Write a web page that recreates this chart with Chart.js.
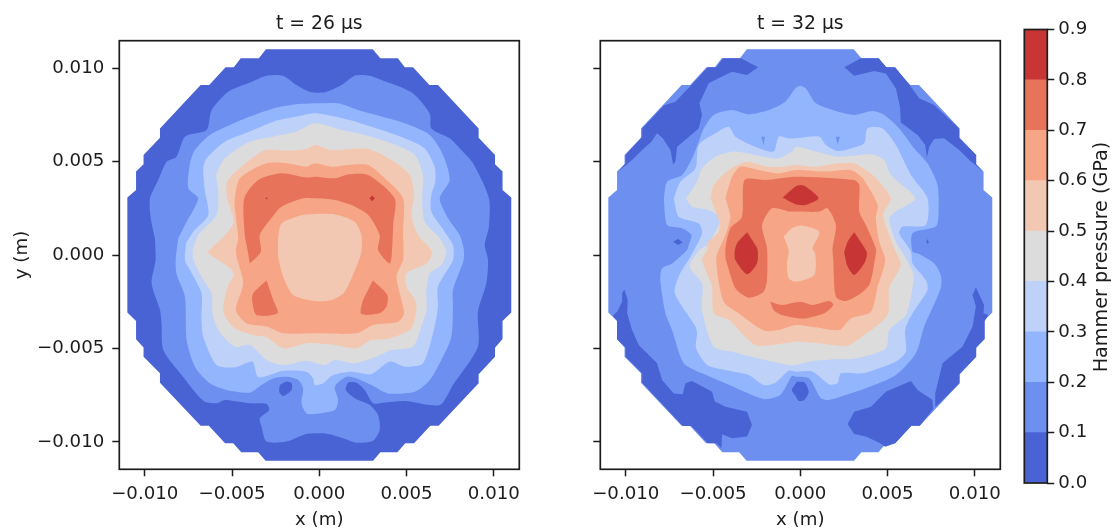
<!DOCTYPE html>
<html>
<head>
<meta charset="utf-8">
<title>Hammer pressure</title>
<script src="https://cdn.jsdelivr.net/npm/chart.js@4/dist/chart.umd.min.js"></script>
<style>
  html, body { margin: 0; padding: 0; background: #fff; }
  canvas { position: absolute; top: 0; }
</style>
</head>
<body>
<canvas id="panel26" width="560" height="529" style="left:0"></canvas>
<canvas id="panel32" width="450" height="529" style="left:560px"></canvas>
<canvas id="colorbar" width="105" height="529" style="left:1010px"></canvas>
<script>
// pressure bands (GPa) and the colour of each band
const levels = [0, 0.1, 0.2, 0.3, 0.4, 0.5, 0.6, 0.7, 0.8, 0.9];
const levelColors = ['#4a63d4', '#6c8ff0', '#93b5fe', '#bed1f8', '#dddcdc', '#f3c8b2', '#f6a587', '#e6735a', '#c73635'];
const axisTicks = [-0.01, -0.005, 0, 0.005, 0.01];
const titles = ['t = 26 µs', 't = 32 µs'];

// contour outlines, [x, y] in mm
const outline = [[-3.06,11],[3.06,11],[3.5,10.52],[4.5,10.52],[4.9,10.04],[5.37,10.04],[6.31,9.09],[6.8,9.09],[9.13,6.77],[9.13,6.27],[10.07,5.35],[10.07,4.85],[10.5,4.46],[10.5,3.48],[11,3.08],[11,-3.08],[10.5,-3.53],[10.5,-4.49],[10.07,-4.96],[10.07,-5.44],[9.13,-6.38],[9.13,-6.86],[6.84,-9.13],[6.36,-9.13],[5.43,-10.07],[4.93,-10.07],[4.47,-10.55],[3.5,-10.55],[3.08,-11],[-3.08,-11],[-3.5,-10.55],[-4.47,-10.55],[-4.93,-10.07],[-5.4,-10.07],[-6.33,-9.13],[-6.8,-9.13],[-9.13,-6.83],[-9.13,-6.33],[-10.07,-5.44],[-10.07,-4.94],[-10.5,-4.51],[-10.5,-3.53],[-11,-3.08],[-11,3.08],[-10.5,3.48],[-10.5,4.46],[-10.07,4.85],[-10.07,5.35],[-9.13,6.27],[-9.13,6.77],[-6.8,9.09],[-6.31,9.09],[-5.37,10.04],[-4.9,10.04],[-4.5,10.52],[-3.46,10.52]];

// t = 26 us
const a1 = [[-9.42,0.89],[-9.67,2.05],[-9.7,3.03],[-9.23,4.01],[-8.75,4.99],[-8.18,5.26],[-7.7,6.33],[-6.46,6.68],[-6.17,7.75],[-5.22,8.73],[-3.98,9.22],[-3.02,9.59],[-2.07,9.59],[-1.31,9.09],[-0.54,8.73],[0.31,8.7],[1.27,9.09],[2.03,9.59],[2.89,9.59],[3.56,9.36],[5.28,8.7],[6.33,7.57],[6.42,6.77],[7.47,6.24],[8.14,5.61],[8.81,4.9],[9.72,3.03],[9.72,1.52],[9.48,0.53],[9.67,-0.27],[9.57,-1.52],[9.09,-3.03],[9.09,-4.9],[7.66,-6.95],[6.9,-8.02],[4.9,-7.81],[3.65,-7.9],[3.08,-7.93],[2.6,-7.22],[2.13,-6.83],[1.65,-6.83],[1.52,-7.22],[2.03,-7.66],[2.89,-8.02],[3.37,-8.56],[3.46,-9.36],[3.08,-9.93],[2.13,-10.04],[1.36,-9.8],[0.51,-9.57],[-0.73,-9.57],[-1.88,-9.98],[-3.02,-9.98],[-3.31,-9.18],[-3.41,-8.73],[-2.87,-8.29],[-3.02,-7.97],[-3.98,-7.93],[-5.41,-7.75],[-5.89,-7.93],[-6.65,-7.79],[-7.89,-6.42],[-8.94,-5.08],[-9.04,-3.65],[-9.13,-2.94],[-9.61,-1.52],[-9.38,-0.27]];
const aSpot = [[-2.26,-6.95],[-1.88,-6.77],[-1.59,-6.86],[-1.59,-7.22],[-2.07,-7.54],[-2.3,-7.31]];
const a2 = [[-8.08,0.89],[-7.7,1.6],[-6.94,3.03],[-7.51,3.57],[-7.41,4.9],[-7.13,5.61],[-6.27,6.42],[-5.12,6.95],[-3.98,7.4],[-2.64,7.84],[-1.31,8.06],[0,8.11],[1.08,8.11],[2.22,7.75],[3.56,7.4],[4.9,7.04],[6.33,6.42],[7.09,5.35],[7.47,4.01],[6.9,3.03],[7.38,1.96],[8.04,1.07],[8.27,0.36],[8.27,-0.27],[7.66,-1.87],[7.66,-2.76],[7.57,-4.37],[7.09,-5.44],[6.33,-6.68],[5.47,-7.31],[3.94,-7.4],[2.99,-6.95],[2.13,-6.6],[1.56,-6.51],[0.89,-7.04],[1.08,-7.75],[0.89,-8.29],[-0.26,-8.5],[-0.73,-8.47],[-1.02,-7.93],[-0.93,-7.13],[-1.21,-6.68],[-1.88,-6.51],[-2.64,-6.6],[-3.31,-6.95],[-3.98,-7.36],[-5.31,-7.22],[-6.27,-6.86],[-7.13,-5.97],[-7.6,-4.55],[-7.7,-2.23],[-8.18,-1.02],[-8.23,-0.27]];
const a3 = [[-7.64,0.62],[-7.22,1.25],[-6.36,2.14],[-6.55,3.39],[-6.65,4.63],[-6.46,5.17],[-5.41,6.06],[-3.98,6.6],[-2.64,7.13],[-1.31,7.4],[-0.26,7.58],[0.89,7.4],[2.22,7.09],[3.56,6.68],[4.9,6.24],[6.04,5.7],[6.61,4.72],[6.65,3.92],[6.42,3.21],[6.42,2.32],[7.18,1.25],[7.66,0.53],[7.66,-0.27],[6.8,-1.69],[6.8,-2.76],[6.61,-3.83],[5.94,-5.79],[4.9,-5.97],[4.04,-5.7],[2.99,-6.36],[1.84,-6.24],[0.79,-6.42],[0.22,-6.86],[-0.26,-6.95],[-0.35,-6.6],[-0.73,-6.24],[-2.07,-6.19],[-3.5,-6.54],[-3.83,-5.7],[-4.84,-6.01],[-5.89,-5.88],[-6.65,-4.37],[-6.75,-3.39],[-6.75,-2.05],[-7.41,-0.8],[-7.7,-0.27]];
const a4 = [[-7.26,0.27],[-6.94,1.07],[-5.89,2.14],[-5.79,3.39],[-5.89,4.28],[-5.41,5.17],[-3.98,6.06],[-2.64,6.33],[-1.31,6.6],[-0.26,7.04],[1.27,6.68],[2.6,6.42],[4.13,5.97],[5.47,5.35],[5.94,4.28],[5.89,3.03],[6.04,1.78],[6.9,0.89],[7.28,0.18],[7,-0.53],[6.33,-0.98],[6.14,-1.87],[6.14,-2.94],[5.85,-3.83],[5.37,-4.9],[4.13,-5.08],[3.27,-5.44],[2.03,-5.79],[0.89,-5.61],[0.31,-5.88],[-0.73,-5.65],[-2.07,-5.88],[-3.02,-5.61],[-3.98,-4.81],[-4.84,-4.9],[-5.79,-4.01],[-6.12,-3.12],[-6.17,-2.05],[-6.75,-1.16],[-7.22,-0.27]];
const a5 = [[-6.36,0.21],[-5.41,1.07],[-4.9,1.78],[-5.28,3.03],[-5.28,3.92],[-4.46,4.72],[-3.12,5.61],[-1.88,5.58],[-0.73,5.67],[-0.26,5.88],[0.7,5.61],[2.8,5.67],[4.13,5.08],[5.18,4.28],[5.43,3.21],[5.28,2.14],[5.66,1.07],[6.46,0.18],[6.14,-0.45],[4.99,-0.98],[4.99,-1.69],[5.56,-2.58],[5.28,-3.92],[4.04,-4.46],[2.99,-4.55],[2.13,-4.99],[0.89,-4.81],[-0.26,-4.72],[-0.73,-4.72],[-2.07,-4.99],[-3.02,-4.4],[-3.79,-4.28],[-4.84,-3.92],[-5.51,-3.03],[-5.22,-1.6],[-4.9,-1.07],[-5.12,-0.71],[-6.36,0.09]];
const a6 = [[-4.78,0.36],[-4.65,0.89],[-4.84,2.5],[-4.84,3.03],[-4.55,4.1],[-3.02,4.9],[-1.88,4.9],[-0.73,4.72],[-0.26,4.9],[0.7,4.72],[1.65,4.81],[2.8,4.81],[3.75,4.1],[4.8,3.03],[4.8,1.25],[4.8,-0.27],[4.42,-1.16],[4.86,-3.12],[4.51,-3.57],[3.08,-3.74],[2.13,-4.19],[-0.26,-4.19],[-2.07,-4.19],[-3.02,-3.83],[-4.17,-3.65],[-4.78,-2.94],[-4.36,-1.52],[-4.74,-0.09]];
const a7 = [[-3.98,-0.45],[-4.11,0.27],[-4.27,1.07],[-4.3,3.03],[-3.5,4.01],[-2.17,4.37],[-0.73,4.14],[-0.26,4.19],[0.89,4.1],[1.65,4.31],[2.8,4.28],[4.32,3.03],[4.23,1.6],[4.17,0.27],[4.04,-0.45],[3.37,0.27],[3.46,1.07],[2.8,2.14],[1.84,2.67],[0.89,2.94],[-0.26,3.03],[-0.93,3.03],[-2.17,2.58],[-2.64,2.1],[-3.41,1.07],[-3.35,0.18]];
const aCore = [[-2.36,0.27],[-2.36,0.89],[-2.17,1.69],[-1.31,2.05],[-0.73,2.17],[0.89,2.17],[2.03,1.78],[2.41,1.07],[2.41,0.18],[2.13,-0.62],[1.46,-1.96],[0.7,-2.41],[-0.26,-2.46],[-1.5,-2.14],[-2.07,-1.16],[-2.36,-0.09]];
const aLobeL = [[-3.02,-1.37],[-2.64,-2.41],[-2.39,-3.12],[-3.6,-3.21],[-3.85,-2.41],[-3.79,-2.05],[-3.41,-1.69]];
const aLobeR = [[3.08,-1.37],[3.9,-2.14],[3.85,-2.76],[3.46,-3.12],[2.41,-3.16],[2.45,-2.58],[2.89,-1.69]];
const aDotL = [[-3.02,3.09],[-2.96,3.03],[-3.02,2.97],[-3.08,3.03]];
const aDotR = [[3.03,3.18],[3.18,3.03],[3.03,2.88],[2.88,3.03]];

// t = 32 us
const bDarkTL = [[-4.43,10.52],[-3.4,10.52],[-2.42,10.04],[-3.05,9.63],[-3.91,9.8],[-4.48,9.54],[-5.25,9.18],[-5.78,8.11],[-5.63,7.49],[-5.82,6.77],[-7.06,5.79],[-7.16,4.99],[-7.29,4.85],[-7.44,5.61],[-7.88,6.24],[-8.21,6.51],[-8.53,6.06],[-9.06,5.61],[-9.64,5.08],[-10.4,4.49],[-10.02,4.9],[-10.02,5.35],[-9.06,6.33],[-9.06,6.77],[-7.82,7.99],[-7.16,8.2],[-6.24,9.09],[-5.31,10.04],[-4.81,10.04]];
const bDarkTR = [[2.52,10.04],[3.47,10.52],[4.48,10.52],[4.94,10.04],[5.44,10.04],[6.34,9],[6.81,8.38],[7.67,8.02],[9.1,6.77],[9.1,6.27],[10.08,5.35],[10.08,4.85],[10.48,4.46],[9.68,5.08],[9.1,5.61],[8.24,6.24],[7.67,6.2],[7.39,5.79],[7.25,5.21],[7.16,5.88],[6.72,6.42],[5.76,7.09],[5.71,7.93],[5.48,8.91],[4.9,9.71],[4.24,9.84],[3.09,9.59]];
const bDarkBL = [[-10.08,-1.84],[-9.89,-2.41],[-9.92,-3.12],[-9.64,-4.01],[-9.26,-4.81],[-8.21,-5.79],[-7.92,-6.68],[-7.25,-7.4],[-6.74,-7.45],[-6.58,-6.86],[-6.2,-6.74],[-5.06,-7.31],[-4.9,-7.84],[-4.29,-8.11],[-3.05,-8.38],[-2.77,-9.09],[-3.05,-9.71],[-3.91,-9.8],[-4.48,-9.59],[-4.52,-10.34],[-4.81,-10.07],[-5.31,-10.07],[-6.24,-9.14],[-6.74,-9.14],[-9.06,-6.83],[-9.06,-6.33],[-10.02,-5.44],[-10.02,-4.94],[-10.5,-4.51],[-10.5,-3.53],[-10.74,-3.25],[-10.5,-3.03],[-10.21,-2.5],[-10.21,-2.05]];
const bDarkMid = [[-0.19,-6.77],[0.23,-6.81],[0.48,-7.31],[0.23,-7.75],[-0.1,-7.79],[-0.29,-7.52],[-0.48,-7.22]];
const bDarkBlob = [[6.34,-6.74],[6.72,-7.22],[7.58,-7.75],[7.61,-8.25],[6.85,-9.13],[6.37,-9.13],[5.44,-10.07],[4.87,-10.25],[4.52,-10.04],[3.76,-9.71],[3.09,-9.57],[2.71,-9.04],[3.09,-8.38],[4.05,-8.11],[4.9,-7.31]];
const bDarkBR = [[10.06,-1.73],[10.53,-2.67],[10.5,-3.12],[10.78,-3.21],[10.57,-3.53],[10.57,-4.49],[10.08,-4.96],[10.08,-5.44],[9.12,-6.38],[9.12,-6.86],[7.77,-8.11],[7.73,-7.4],[8.15,-5.79],[9.29,-4.9],[9.87,-3.83],[10.06,-2.76],[9.87,-2.14]];
const bSpotL = [[-7.29,0.71],[-7,0.86],[-6.74,0.68],[-7,0.53]];
const bSpotR = [[7.23,0.71],[7.29,0.86],[7.35,0.68],[7.29,0.57]];
const b2 = [[-7.82,3.03],[-7.63,3.92],[-6.77,4.28],[-6.2,5.17],[-5.82,6.06],[-5.53,6.77],[-4.96,7.49],[-3.91,7.75],[-2.96,7.52],[-1.81,7.75],[-0.86,8.2],[-0.29,8.91],[0,9.05],[0.32,8.91],[0.9,8.11],[2.04,7.7],[3.09,7.49],[4.14,7.7],[4.81,7.49],[5.67,6.77],[6.53,5.7],[7.29,4.9],[7.86,3.74],[7.92,2.14],[7.77,1.52],[6.43,1.16],[6.43,0.18],[6.72,0.09],[7.67,-0.45],[8.05,-1.07],[8.05,-1.78],[7.1,-3.83],[6.62,-5.26],[5.48,-6.42],[3.76,-7.13],[2.61,-7.49],[1.66,-7.75],[1.18,-7.66],[0.51,-6.6],[-0.25,-6.51],[-0.48,-6.47],[-1.15,-7.49],[-2.1,-7.7],[-4.29,-6.86],[-5.63,-6.33],[-6.68,-5.79],[-7.35,-4.01],[-7.73,-3.12],[-8.02,-1.34],[-7.92,-0.71],[-7.35,-0.45],[-6.49,0.27],[-6.39,0.53],[-6.24,1.07],[-6.77,1.43],[-7.63,1.6]];
const bSliverL = [[-2.23,6.33],[-2.04,6.33],[-2.1,5.85]];
const bSliverR = [[2.04,6.33],[2.27,6.33],[2.14,5.92]];
const b3 = [[-7.25,3.03],[-6.87,3.92],[-6.01,4.63],[-5.82,5.88],[-4.87,6.51],[-4.1,6.86],[-3.72,6.33],[-2.58,5.79],[-1.53,5.53],[-1.24,6.33],[-0.67,6.24],[-0.25,6.24],[1.09,6.33],[1.47,5.88],[2.14,5.56],[2.9,5.7],[3.66,5.97],[3.85,6.77],[4.71,6.77],[5.48,5.88],[6.34,4.28],[7.29,3.03],[7.19,1.6],[5.86,1.52],[5.67,1.16],[6.34,0.18],[6.43,-0.45],[7.19,-1.34],[7.29,-1.87],[6.43,-3.12],[6.01,-4.01],[6.05,-5.17],[5.48,-5.7],[4.52,-6.06],[3.57,-6.33],[2.33,-6.33],[2.14,-6.86],[1.66,-6.92],[0.71,-6.24],[-0.25,-6.24],[-0.67,-6.19],[-1.43,-6.83],[-2.1,-6.95],[-2.96,-6.42],[-4.29,-6.15],[-5.34,-5.88],[-5.97,-4.99],[-5.92,-4.19],[-6.01,-3.83],[-7.19,-2.05],[-6.93,-1.07],[-6.3,-0.09],[-5.63,1.16],[-5.82,1.69],[-6.97,2.05]];
const b4 = [[-6.55,3.03],[-5.92,3.92],[-5.63,4.63],[-4.87,5.26],[-3.72,5.53],[-2.19,5.26],[-1.24,5.17],[-0.48,5.53],[-0.25,5.79],[0.9,5.53],[2.14,5.26],[4.14,5.38],[4.81,5.08],[5.19,4.28],[6.58,3.03],[5.48,2.32],[5.1,1.96],[5.48,0.71],[5.95,0],[6.47,-0.98],[6.47,-1.52],[6.05,-3.21],[5.1,-4.01],[4.9,-4.99],[3.19,-5.53],[1.85,-5.58],[0.51,-5.7],[-0.25,-5.88],[-0.67,-5.88],[-2.39,-5.53],[-3.91,-5.17],[-4.96,-4.9],[-5.63,-2.94],[-5.63,-1.52],[-6.35,-0.62],[-5.78,0.27],[-5.25,0.62],[-4.58,1.96],[-5.25,2.41],[-6.2,2.58]];
const b5 = [[-5.15,3.03],[-4.96,3.74],[-4.1,4.55],[-3.05,4.99],[-1.89,4.72],[-0.95,4.72],[-0.25,4.81],[0.9,4.72],[2.14,4.9],[3.09,4.9],[4.24,4.19],[5.19,3.03],[4.75,2.14],[5.38,0.36],[5.76,-0.53],[5.1,-1.78],[5,-3.21],[3.28,-4.55],[2.61,-4.87],[1.09,-4.72],[-0.25,-4.63],[-0.86,-4.72],[-2.58,-4.81],[-4.1,-3.48],[-4.96,-3.12],[-5.06,-1.69],[-5.63,-0.27],[-5.34,0.27],[-5.34,0.62],[-4.68,1.25],[-4.64,1.78]];
const b6 = [[-4.29,3.03],[-3.91,4.19],[-3.44,4.72],[-2.39,4.55],[-1.24,4.37],[-0.25,4.55],[1.47,4.46],[2.9,4.55],[3.57,4.1],[4.43,2.67],[4.33,1.96],[4.52,0.71],[4.87,-0.27],[4.43,-1.69],[4.05,-3.03],[2.9,-3.39],[2.23,-4.01],[0.9,-3.87],[-0.25,-3.74],[-1.24,-4.01],[-2.1,-4.04],[-3.53,-3.12],[-4.39,-2.5],[-4.81,-0.18],[-4.29,1.07],[-4.01,2.05]];
const b7 = [[-4.29,-0.18],[-4.29,0.36],[-4.01,1.43],[-3.34,2.05],[-3.19,4.01],[-2,4.01],[-0.25,4.19],[3.09,4.01],[3.38,3.74],[3.38,2.32],[3.76,1.6],[4.33,0.36],[4.33,0.09],[3.99,-1.52],[3.47,-2.05],[2.61,-2.46],[2.04,-2.23],[1.89,-0.27],[1.85,0.36],[2.04,1.6],[1.56,2.5],[1.09,2.32],[-0.25,2.32],[-0.57,2.32],[-1.62,2.5],[-2.19,1.6],[-1.91,0.36],[-1.91,-1.34],[-2.1,-1.96],[-2.96,-2.28],[-3.72,-1.78]];
const bArc = [[-1.72,-2.5],[-1.05,-2.67],[0,-2.5],[0.71,-2.67],[1.66,-2.46],[1.89,-2.67],[1.37,-3.12],[0.32,-3.39],[-0.1,-3.39],[-1.05,-3.21],[-1.53,-2.94]];
const bCore = [[-0.95,0.98],[-0.48,1.43],[0.1,1.57],[1.09,1.25],[0.7,0.36],[0.86,0.09],[0.8,-1.07],[-0.25,-1.43],[-0.67,-1.25],[-0.76,-0.45],[-0.67,0.27]];
const bPeakTop = [[-1.01,3.07],[-0.29,3.65],[0,3.74],[0.32,3.65],[1.05,3.03],[0.32,2.67],[0,2.67],[-0.29,2.71]];
const bPeakL = [[-3.05,1.21],[-2.58,0.53],[-2.44,0.27],[-2.48,-0.45],[-3.05,-1.03],[-3.72,-0.27],[-3.76,0.18],[-3.63,0.62]];
const bPeakR = [[3.09,1.21],[3.8,0.18],[3.8,-0.09],[3.66,-0.45],[3.09,-1.07],[2.71,-0.62],[2.52,0.09],[2.52,0.18],[2.71,0.71]];

// [band index, outline], painted in this order
const layers26 = [[0,outline],[1,a1],[0,aSpot],[2,a2],[3,a3],[4,a4],[5,a5],[6,a6],[7,a7],[5,aCore],[7,aLobeL],[7,aLobeR],[8,aDotL],[8,aDotR]];
const layers32 = [[1,outline],[0,bDarkTL],[0,bDarkTR],[0,bDarkBL],[0,bDarkMid],[0,bDarkBlob],[0,bDarkBR],[0,bSpotL],[0,bSpotR],[2,b2],[1,bSliverL],[1,bSliverR],[3,b3],[4,b4],[5,b5],[6,b6],[7,b7],[7,bArc],[5,bCore],[8,bPeakTop],[8,bPeakL],[8,bPeakR]];

// these follow the stepped rim or are tiny, a spline would spill over
const keepSharp = [outline, bDarkTL, bDarkTR, bDarkBL, bDarkBR, bDarkBlob, aDotL, aDotR, bSpotL, bSpotR, bSliverL, bSliverR];

const ink = '#1c1c1c';
const fontName = '"DejaVu Sans"';
const fontSize = 18.2;
const limit = 0.01146;

// matplotlib keeps a box round the axes, chart.js only one edge
const framePlugin = {
    id: 'frame',
    afterDraw(chart) {
        const { ctx, chartArea: a } = chart;
        ctx.save();
        ctx.strokeStyle = ink;
        ctx.lineWidth = 1.7;
        ctx.strokeRect(a.left, a.top, a.right - a.left, a.bottom - a.top);
        ctx.restore();
    }
};

// built-in title centres on the canvas, not on the axes
const panelTitle = {
    id: 'panelTitle',
    afterDraw(chart, args, opts) {
        const { ctx, chartArea: a } = chart;
        ctx.save();
        ctx.font = '18.8px ' + fontName;
        ctx.fillStyle = ink;
        ctx.textAlign = 'center';
        ctx.textBaseline = 'middle';
        ctx.fillText(opts.text, (a.left + a.right) / 2, 24);
        ctx.restore();
    }
};

const sideTitle = {
    id: 'sideTitle',
    afterDraw(chart) {
        const { ctx } = chart;
        ctx.save();
        ctx.translate(92, 257);
        ctx.rotate(-Math.PI / 2);
        ctx.font = '19.2px ' + fontName;
        ctx.fillStyle = ink;
        ctx.textAlign = 'center';
        ctx.textBaseline = 'middle';
        ctx.fillText('Hammer pressure (GPa)', 0, 0);
        ctx.restore();
    }
};

function tickLabel(v) {
    return v.toFixed(3).replace('-', '\u2212');
}

function toDataset(layer) {
    const pts = layer[1].concat([layer[1][0]]);
    return {
        data: pts.map(p => ({ x: p[0] / 1000, y: p[1] / 1000 })),
        backgroundColor: levelColors[layer[0]],
        borderWidth: 0,
        showLine: true,
        pointRadius: 0,
        tension: keepSharp.includes(layer[1]) ? 0 : 0.25,
        fill: 'shape'
    };
}

function axisOptions(showLabels, title, tickPad) {
    return {
        type: 'linear',
        min: -limit,
        max: limit,
        afterBuildTicks: ax => { ax.ticks = axisTicks.map(v => ({ value: v })); },
        border: { display: false },
        grid: { drawOnChartArea: false, drawTicks: true, tickLength: 7, tickColor: ink, tickWidth: 1.5 },
        ticks: {
            color: ink,
            padding: tickPad,
            maxRotation: 0,
            autoSkip: false,
            font: { family: fontName, size: fontSize },
            callback: v => showLabels ? tickLabel(v) : ''
        },
        title: title ? {
            display: true,
            text: title,
            color: ink,
            padding: 0,
            font: { family: fontName, size: fontSize, lineHeight: 1 }
        } : { display: false }
    };
}

function drawPanel(id, layers, title, showY, leftPad, leftAxis, rightPad) {
    const xAxis = axisOptions(true, 'x (m)', 7);
    xAxis.afterFit = ax => { ax.height = 59.7; };
    const yAxis = axisOptions(showY, showY ? 'y (m)' : null, 8);
    yAxis.afterFit = ax => { ax.width = leftAxis; };
    new Chart(document.getElementById(id), {
        type: 'scatter',
        data: { datasets: layers.map(toDataset).reverse() },
        options: {
            responsive: false,
            animation: false,
            layout: { padding: { left: leftPad, right: rightPad, top: 40.7, bottom: 0 } },
            plugins: {
                legend: { display: false },
                tooltip: { enabled: false },
                panelTitle: { text: title }
            },
            scales: { x: xAxis, y: yAxis }
        },
        plugins: [framePlugin, panelTitle]
    });
}

drawPanel('panel26', layers26, titles[0], true, 13, 106.3, 40.7);
drawPanel('panel32', layers32, titles[1], false, 0, 40.3, 9.7);

// colour bar: one floating bar per band
new Chart(document.getElementById('colorbar'), {
    type: 'bar',
    data: {
        labels: [''],
        datasets: levelColors.map((c, i) => ({
            data: [[levels[i], levels[i + 1]]],
            backgroundColor: c,
            borderWidth: 0,
            barPercentage: 1,
            categoryPercentage: 1,
            grouped: false
        }))
    },
    options: {
        responsive: false,
        animation: false,
        layout: { padding: { left: 14.3, right: 0, top: 29.5, bottom: 46 } },
        plugins: { legend: { display: false }, tooltip: { enabled: false } },
        scales: {
            x: { display: false },
            y: {
                position: 'right',
                min: 0,
                max: 0.9,
                afterBuildTicks: ax => { ax.ticks = levels.map(v => ({ value: v })); },
                afterFit: ax => { ax.width = 67.7; },
                border: { display: false },
                grid: { drawOnChartArea: false, drawTicks: true, tickLength: 7, tickColor: ink, tickWidth: 1.5 },
                ticks: {
                    color: ink,
                    padding: 4,
                    autoSkip: false,
                    font: { family: fontName, size: fontSize },
                    callback: v => v.toFixed(1)
                }
            }
        }
    },
    plugins: [framePlugin, sideTitle]
});
</script>
</body>
</html>
